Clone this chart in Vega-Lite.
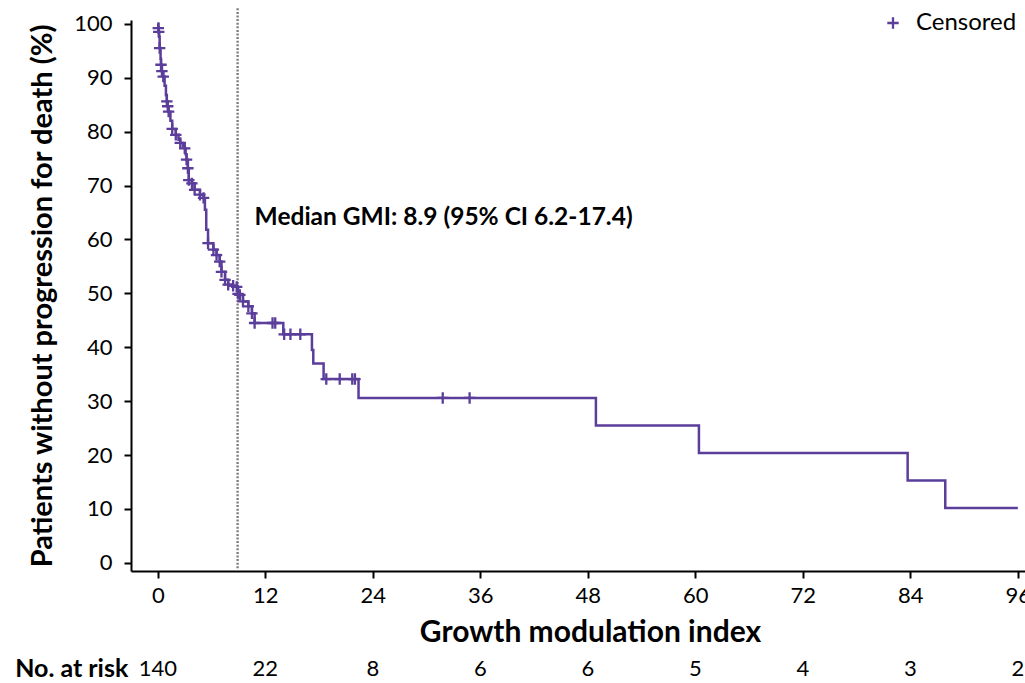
{
  "$schema": "https://vega.github.io/schema/vega-lite/v6.json",
  "autosize": {"type": "none"},
  "padding": {"left": 131, "top": 20, "right": 0, "bottom": 112},
  "width": 894,
  "height": 551,
  "background": "white",
  "config": {
    "view": {"stroke": null},
    "font": "Lato",
    "axis": {"grid": false, "domainColor": "black", "domainWidth": 2, "tickColor": "black", "tickWidth": 2, "tickSize": 7, "labelColor": "black", "titleColor": "black", "labelFont": "Lato", "titleFont": "Lato", "labelFontSize": 22, "labelFontWeight": "normal"}
  },
  "datasets": {
    "km": [
      {"t": 0, "s": 100, "c": false},
      {"t": 0.05, "s": 99.2, "c": true},
      {"t": 0.1, "s": 98.5, "c": true},
      {"t": 0.15, "s": 97.6, "c": false},
      {"t": 0.2, "s": 95.5, "c": true},
      {"t": 0.3, "s": 93.5, "c": false},
      {"t": 0.35, "s": 92.4, "c": true},
      {"t": 0.45, "s": 91.2, "c": true},
      {"t": 0.6, "s": 90.2, "c": true},
      {"t": 0.75, "s": 88.5, "c": false},
      {"t": 0.9, "s": 86.8, "c": false},
      {"t": 1.0, "s": 85.6, "c": true},
      {"t": 1.1, "s": 84.7, "c": true},
      {"t": 1.2, "s": 83.7, "c": true},
      {"t": 1.4, "s": 82.0, "c": false},
      {"t": 1.6, "s": 80.5, "c": true},
      {"t": 2.0, "s": 79.4, "c": true},
      {"t": 2.3, "s": 78.5, "c": false},
      {"t": 2.5, "s": 77.9, "c": true},
      {"t": 2.8, "s": 77.3, "c": false},
      {"t": 3.0, "s": 76.9, "c": true},
      {"t": 3.1, "s": 75.8, "c": false},
      {"t": 3.2, "s": 74.8, "c": true},
      {"t": 3.35, "s": 73.2, "c": true},
      {"t": 3.45, "s": 71.0, "c": true},
      {"t": 3.8, "s": 70.4, "c": true},
      {"t": 4.1, "s": 69.2, "c": true},
      {"t": 4.7, "s": 68.3, "c": true},
      {"t": 5.1, "s": 67.7, "c": true},
      {"t": 5.25, "s": 65.5, "c": false},
      {"t": 5.4, "s": 61.8, "c": false},
      {"t": 5.6, "s": 59.3, "c": true},
      {"t": 6.2, "s": 58.1, "c": true},
      {"t": 6.55, "s": 57.1, "c": true},
      {"t": 6.9, "s": 55.9, "c": true},
      {"t": 7.1, "s": 54.0, "c": true},
      {"t": 7.5, "s": 52.5, "c": true},
      {"t": 7.85, "s": 51.6, "c": true},
      {"t": 8.4, "s": 51.4, "c": true},
      {"t": 8.8, "s": 51.2, "c": true},
      {"t": 8.95, "s": 49.9, "c": true},
      {"t": 9.15, "s": 49.7, "c": true},
      {"t": 9.5, "s": 48.5, "c": true},
      {"t": 10.1, "s": 47.6, "c": true},
      {"t": 10.5, "s": 46.3, "c": true},
      {"t": 10.8, "s": 44.5, "c": true},
      {"t": 12.8, "s": 44.5, "c": true},
      {"t": 13.1, "s": 44.5, "c": true},
      {"t": 14.0, "s": 42.4, "c": false},
      {"t": 14.1, "s": 42.4, "c": true},
      {"t": 14.8, "s": 42.4, "c": true},
      {"t": 15.9, "s": 42.4, "c": true},
      {"t": 17.2, "s": 39.5, "c": false},
      {"t": 17.35, "s": 37.0, "c": false},
      {"t": 18.5, "s": 34.1, "c": false},
      {"t": 18.8, "s": 34.1, "c": true},
      {"t": 20.3, "s": 34.1, "c": true},
      {"t": 21.7, "s": 34.1, "c": true},
      {"t": 22.0, "s": 34.1, "c": true},
      {"t": 22.4, "s": 30.6, "c": false},
      {"t": 31.8, "s": 30.6, "c": true},
      {"t": 34.8, "s": 30.6, "c": true},
      {"t": 48.9, "s": 25.5, "c": false},
      {"t": 60.4, "s": 20.4, "c": false},
      {"t": 83.7, "s": 15.3, "c": false},
      {"t": 87.9, "s": 10.2, "c": false},
      {"t": 96, "s": 10.2, "c": false}
    ],
    "risk": [
      {"t": 0, "n": "140"},
      {"t": 12, "n": "22"},
      {"t": 24, "n": "8"},
      {"t": 36, "n": "6"},
      {"t": 48, "n": "6"},
      {"t": 60, "n": "5"},
      {"t": 72, "n": "4"},
      {"t": 84, "n": "3"},
      {"t": 96, "n": "2"}
    ],
    "median": [
      {"t": 8.9, "lo": -1, "hi": 103, "label": "Median GMI: 8.9 (95% CI 6.2-17.4)", "lx": 10.8, "ly": 64}
    ]
  },
  "layer": [
    {
      "data": {"name": "km"},
      "mark": {"type": "line", "interpolate": "step-after", "color": "#5b3d9a", "strokeWidth": 2.5},
      "encoding": {
        "x": {"field": "t", "type": "quantitative", "scale": {"domain": [-3, 96.8], "nice": false, "zero": false},
          "axis": {"values": [0, 12, 24, 36, 48, 60, 72, 84, 96], "title": "Growth modulation index", "titleFontSize": 30, "titleFontWeight": "bold", "labelPadding": 7, "titlePadding": 11, "titleX": 459}},
        "y": {"field": "s", "type": "quantitative", "scale": {"domain": [-1.5, 100.7], "nice": false, "zero": false},
          "axis": {"values": [0, 10, 20, 30, 40, 50, 60, 70, 80, 90, 100], "title": "Patients without progression for death (%)", "titleFontSize": 29, "titleFontWeight": "bold", "labelPadding": 12, "titlePadding": 16}}
      }
    },
    {
      "data": {"name": "median"},
      "mark": {"type": "rule", "color": "#7f7f7f", "strokeWidth": 2.4, "strokeDash": [2, 1.6], "clip": false},
      "encoding": {
        "x": {"field": "t", "type": "quantitative"},
        "y": {"field": "lo", "type": "quantitative"},
        "y2": {"field": "hi"}
      }
    },
    {
      "data": {"name": "km"},
      "transform": [{"filter": "datum.c"}],
      "mark": {"type": "point", "shape": "M-1,0H1M0,-1V1", "filled": false, "size": 130, "strokeWidth": 2.3, "opacity": 1},
      "encoding": {
        "x": {"field": "t", "type": "quantitative"},
        "y": {"field": "s", "type": "quantitative"},
        "color": {"datum": "Censored", "type": "nominal", "scale": {"range": ["#5b3d9a"]},
          "legend": {"orient": "none", "legendX": 750, "legendY": -9, "title": null, "symbolType": "M-1,0H1M0,-1V1", "symbolSize": 130, "symbolStrokeWidth": 2.3, "labelFontSize": 24, "labelFont": "Lato", "labelColor": "black", "labelOffset": 11}}
      }
    },
    {
      "data": {"name": "median"},
      "mark": {"type": "text", "align": "left", "baseline": "middle", "fontSize": 24.5, "fontWeight": "bold", "color": "black"},
      "encoding": {
        "x": {"field": "lx", "type": "quantitative"},
        "y": {"field": "ly", "type": "quantitative"},
        "text": {"field": "label"}
      }
    },
    {
      "data": {"name": "risk"},
      "mark": {"type": "text", "align": "center", "baseline": "middle", "fontSize": 22, "color": "black", "clip": false},
      "encoding": {
        "x": {"field": "t", "type": "quantitative"},
        "y": {"datum": -19.6, "type": "quantitative"},
        "text": {"field": "n"}
      }
    },
    {
      "data": {"values": [{"label": "No. at risk"}]},
      "mark": {"type": "text", "align": "right", "baseline": "middle", "fontSize": 25, "fontWeight": "bold", "color": "black", "clip": false},
      "encoding": {
        "x": {"datum": -3.3, "type": "quantitative"},
        "y": {"datum": -19.6, "type": "quantitative"},
        "text": {"field": "label"}
      }
    }
  ]
}
